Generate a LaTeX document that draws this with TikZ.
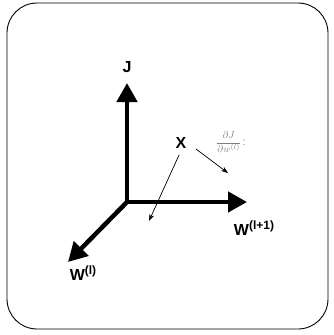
\documentclass[tikz,border=0pt]{standalone}
\usepackage{fontspec}
\setmainfont{Liberation Sans}
\usetikzlibrary{arrows.meta}
\newcommand{\suplbl}[1]{\raisebox{5.5pt}{\fontsize{12}{12}\selectfont#1}}
\begin{document}
\begin{tikzpicture}[x=1pt, y=-1pt, line cap=round, line join=round,
		axis/.style={line width=4.5pt, -{Triangle[length=19pt, width=20pt]}},
		grad/.style={line width=0.7pt, -{Stealth[length=7pt, width=5pt]}},
		lbl/.style={font=\bfseries\fontsize{16}{18}\selectfont, inner sep=1pt}]
	% Define window bounds
	\def\xmin{0} \def\xmax{333}
	\def\ymin{0} \def\ymax{335}
	\useasboundingbox (\xmin,\ymin) rectangle (\xmax,\ymax);
	
	% Rounded frame
	\draw[line width=0.9pt, rounded corners=30pt] (7,3) rectangle (328,329);
	
	% Axes
	\coordinate (o) at (127,202);
	\coordinate (jtip) at (127,83);
	\coordinate (wtip) at (247,202);
	\coordinate (ltip) at (68,262);
	\draw[axis] (o) -- (jtip);
	\draw[axis] (o) -- (wtip);
	\draw[axis] (o) -- (ltip);
	
	% Axis labels
	\node[lbl] (jlab) at (127,67) {J};
	\node[lbl] (wnext) at (254,228) {W\suplbl{(l+1)}};
	\node[lbl] (wcur) at (83,273) {W\suplbl{(l)}};
	
	% Point X and gradient arrows
	\node[lbl] (x) at (181,143) {X};
	\node[gray, font=\normalsize, anchor=west, inner sep=0pt] (dlab) at (216,142) {$\displaystyle\frac{\partial J}{\partial w^{(l)}}$\,:};
	\coordinate (gend) at (228,173);
	\coordinate (dend) at (149,221);
	\draw[grad] (196,149) -- (gend);
	\draw[grad] (179,155) -- (dend);
\end{tikzpicture}
\end{document}
